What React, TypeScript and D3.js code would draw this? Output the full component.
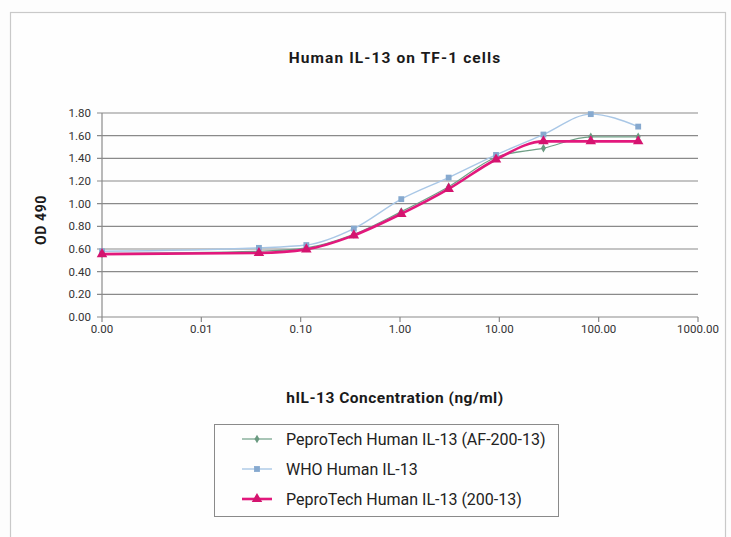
import * as d3 from "d3";

const concentrations = [0.001, 0.038, 0.114, 0.343, 1.03, 3.09, 9.26, 27.8, 83.3, 250];
const af20013 = [0.56, 0.58, 0.61, 0.73, 0.93, 1.15, 1.41, 1.49, 1.59, 1.59];
const whoStd = [0.58, 0.61, 0.635, 0.78, 1.04, 1.23, 1.43, 1.61, 1.79, 1.68];
const pt20013 = [0.555, 0.565, 0.597, 0.72, 0.91, 1.13, 1.39, 1.55, 1.55, 1.55];

const xTicks = [0.001, 0.01, 0.1, 1, 10, 100, 1000];
const yTicks = [0, 0.2, 0.4, 0.6, 0.8, 1.0, 1.2, 1.4, 1.6, 1.8];

const seriesNames = [
  "PeproTech Human IL-13 (AF-200-13)",
  "WHO Human IL-13",
  "PeproTech Human IL-13 (200-13)",
];

const W = 731;
const H = 537;
const M = { left: 102, right: 698, top: 113, bottom: 317 };
const FONT = "Roboto, 'Liberation Sans', sans-serif";

type Style = { line: string; width: number; marker: string; shape: "diamond" | "square" | "triangle"; size: number };
const styles: Style[] = [
  { line: "#6f9f86", width: 1.2, marker: "#6a9a80", shape: "diamond", size: 22 },
  { line: "#a9c7e6", width: 1.4, marker: "#86a9cf", shape: "square", size: 34 },
  { line: "#e2187c", width: 2.6, marker: "#d4146f", shape: "triangle", size: 48 },
];

const symbolType = { diamond: d3.symbolDiamond, square: d3.symbolSquare, triangle: d3.symbolTriangle };

export default function App() {
  const x = d3.scaleLog().domain([0.001, 1000]).range([M.left, M.right]);
  const y = d3.scaleLinear().domain([0, 1.8]).range([M.bottom, M.top]);
  const allSeries = [af20013, whoStd, pt20013];
  const line = d3
    .line<number>()
    .x((_, i) => x(concentrations[i]))
    .y((d) => y(d))
    .curve(d3.curveMonotoneX);
  const fmt = d3.format(".2f");

  return (
    <div style={{ position: "fixed", left: 0, top: 0 }}>
      <svg width={W} height={H} style={{ display: "block", background: "#fdfdfd" }}>
        <rect x={10.5} y={12.5} width={715} height={540} fill="#fefefe" stroke="#c9c9c9" strokeWidth={1.2} />
        <text x={395} y={62.5} textAnchor="middle" fontFamily={FONT} fontWeight="bold" fontSize={15.5} letterSpacing={1.1} fill="#1a1a1a">
          Human IL-13 on TF-1 cells
        </text>

        {/* gridlines */}
        {yTicks.map((t) => (
          <g key={t}>
            <line x1={M.left - 5} x2={M.right} y1={y(t)} y2={y(t)} stroke="#8a8a8a" strokeWidth={1.2} />
            <text x={91} y={y(t) + 4} textAnchor="end" fontFamily={FONT} fontSize={11.5} fill="#333">
              {fmt(t)}
            </text>
          </g>
        ))}
        <line x1={M.left} x2={M.left} y1={M.top} y2={M.bottom} stroke="#8a8a8a" strokeWidth={1.2} />
        {xTicks.map((t) => (
          <g key={t}>
            <line x1={x(t)} x2={x(t)} y1={M.bottom} y2={M.bottom + 5} stroke="#8a8a8a" strokeWidth={1.2} />
            <text x={x(t)} y={333} textAnchor="middle" fontFamily={FONT} fontSize={11.5} fill="#333">
              {fmt(t)}
            </text>
          </g>
        ))}

        <text
          transform={`translate(45.5,${(M.top + M.bottom) / 2 + 5}) rotate(-90)`}
          textAnchor="middle"
          fontFamily={FONT}
          fontWeight="bold"
          fontSize={14}
          letterSpacing={0.6}
          fill="#1a1a1a"
        >
          OD 490
        </text>
        <text x={395} y={402.5} textAnchor="middle" fontFamily={FONT} fontWeight="bold" fontSize={15.5} letterSpacing={0.5} fill="#1a1a1a">
          hIL-13 Concentration (ng/ml)
        </text>

        {/* series */}
        {allSeries.map((s, k) => (
          <g key={k}>
            <path d={line(s) ?? ""} fill="none" stroke={styles[k].line} strokeWidth={styles[k].width} />
            {s.map((v, i) => (
              <path
                key={i}
                transform={`translate(${x(concentrations[i])},${y(v)})`}
                d={d3.symbol().type(symbolType[styles[k].shape]).size(styles[k].size)() ?? ""}
                fill={styles[k].marker}
              />
            ))}
          </g>
        ))}

        {/* legend */}
        <rect x={214.5} y={424.5} width={344} height={92} fill="#fefefe" stroke="#8a8a8a" strokeWidth={1} />
        {seriesNames.map((n, k) => {
          const ly = 439 + k * 30;
          return (
            <g key={n}>
              <line x1={242} x2={272} y1={ly} y2={ly} stroke={styles[k].line} strokeWidth={styles[k].width} />
              <path
                transform={`translate(257,${ly})`}
                d={d3.symbol().type(symbolType[styles[k].shape]).size(styles[k].size)() ?? ""}
                fill={styles[k].marker}
              />
              <text x={286} y={ly + 5.5} fontFamily={FONT} fontSize={16} fill="#222">
                {n}
              </text>
            </g>
          );
        })}
      </svg>
    </div>
  );
}
